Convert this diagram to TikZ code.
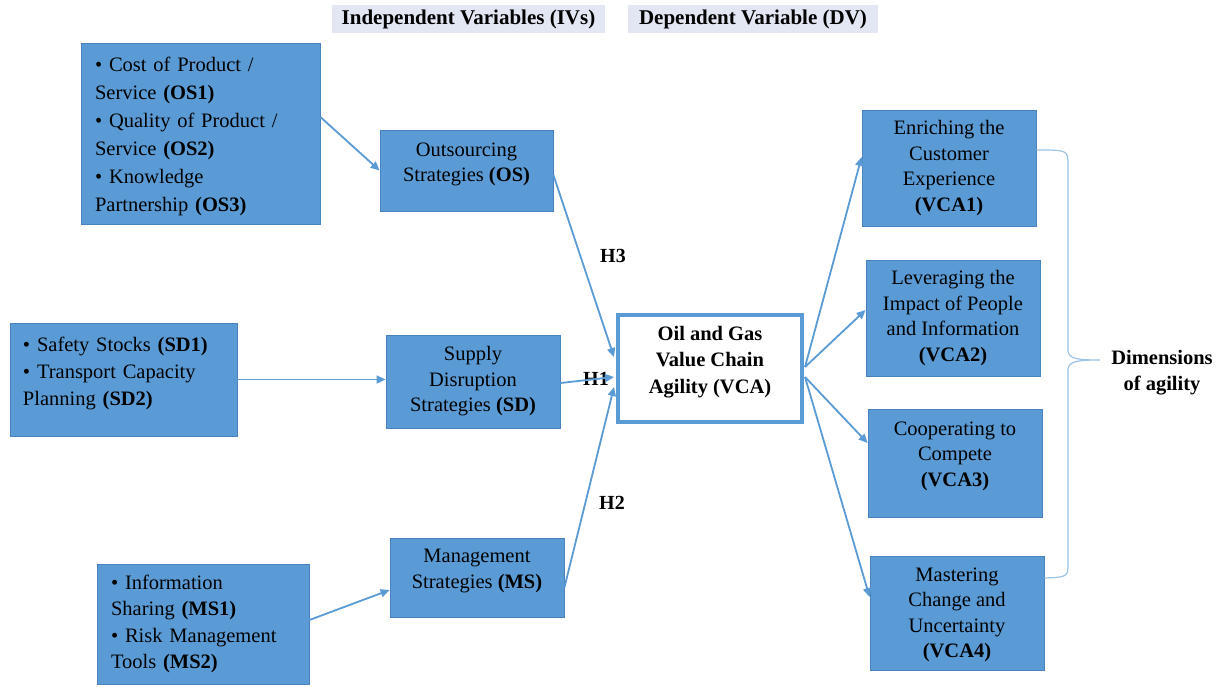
\documentclass[tikz,border=0pt]{standalone}
\usepackage{fontspec}
\setmainfont{Liberation Serif}
\usetikzlibrary{arrows.meta}
\definecolor{boxblue}{HTML}{5B9BD5}
\definecolor{boxedge}{HTML}{4A82BF}
\definecolor{linkblue}{HTML}{5B9BD5}
\definecolor{hdrbg}{HTML}{E3E7F3}
\definecolor{bracecol}{HTML}{9DC3E6}
\begin{document}
\begin{tikzpicture}[x=1pt,y=-1pt,
  box/.style={draw=boxedge, line width=0.8pt, fill=boxblue, inner sep=0pt},
  txt/.style={align=center, font=\fontsize{20.5}{25.5}\selectfont, inner sep=0pt},
  ltxt/.style={align=left, font=\fontsize{20.5}{27.5}\selectfont, inner sep=0pt},
  link/.style={draw=linkblue, line width=1.8pt, -{Triangle[length=9pt,width=8pt]}},
  hdr/.style={fill=hdrbg, font=\bfseries\fontsize{21}{24}\selectfont, inner sep=0pt},
  hyp/.style={font=\bfseries\fontsize{20}{24}\selectfont, inner sep=0pt},
  brace/.style={draw=bracecol, line width=1.2pt}]
\useasboundingbox[fill=white] (0,0) rectangle (1220,686);

% headers
\node[hdr, minimum width=273pt, minimum height=28pt] (ivh) at (468.5,19) {Independent Variables (IVs)};
\node[hdr, minimum width=250pt, minimum height=28pt] (dvh) at (753,19) {Dependent Variable (DV)};

% item boxes
\node[box, minimum width=239pt, minimum height=181pt,
  label={[ltxt, text width=211pt, yshift=-3pt, font=\fontsize{20.5}{28}\selectfont]center:{\textbullet\ Cost of Product /\\Service \textbf{(OS1)}\\\textbullet\ Quality of Product /\\Service \textbf{(OS2)}\\\textbullet\ Knowledge\\Partnership \textbf{(OS3)}}}] (osi) at (200.5,133.5) {};
\node[box, minimum width=227pt, minimum height=113pt,
  label={[ltxt, text width=201pt, yshift=6.5pt, font=\fontsize{20.5}{27}\selectfont]center:{\textbullet\ Safety Stocks \textbf{(SD1)}\\\textbullet\ Transport Capacity\\Planning \textbf{(SD2)}}}] (sdi) at (123.5,379.5) {};
\node[box, minimum width=212pt, minimum height=120pt,
  label={[ltxt, text width=184pt, font=\fontsize{20.5}{26.5}\selectfont]center:{\textbullet\ Information\\Sharing \textbf{(MS1)}\\\textbullet\ Risk Management\\Tools \textbf{(MS2)}}}] (msi) at (203,624) {};

% strategy boxes
\node[box, minimum width=173pt, minimum height=81pt,
  label={[txt, yshift=6pt]center:{Outsourcing\\Strategies \textbf{(OS)}}}] (os) at (466.5,170.5) {};
\node[box, minimum width=174pt, minimum height=93pt,
  label={[txt]center:{Supply\\Disruption\\Strategies \textbf{(SD)}}}] (sd) at (473,381.5) {};
\node[box, minimum width=174pt, minimum height=79pt,
  label={[txt, yshift=6.5pt]center:{Management\\Strategies \textbf{(MS)}}}] (ms) at (477,577.5) {};

% central box
\node[draw=boxblue, line width=4pt, fill=white, minimum width=184pt, minimum height=107pt, inner sep=0pt,
  label={[txt, yshift=6.5pt, font=\bfseries\fontsize{20.5}{26.5}\selectfont]center:{Oil and Gas\\Value Chain\\Agility (VCA)}}] (vca) at (710,368.5) {};

% dimension boxes
\node[box, minimum width=174pt, minimum height=116pt,
  label={[txt]center:{Enriching the\\Customer\\Experience\\\textbf{(VCA1)}}}] (vca1) at (949,168) {};
\node[box, minimum width=174pt, minimum height=116pt,
  label={[txt]center:{Leveraging the\\Impact of People\\and Information\\\textbf{(VCA2)}}}] (vca2) at (953,318) {};
\node[box, minimum width=174pt, minimum height=108pt,
  label={[txt, yshift=7pt]center:{Cooperating to\\Compete\\\textbf{(VCA3)}}}] (vca3) at (955,463) {};
\node[box, minimum width=174pt, minimum height=114pt,
  label={[txt, yshift=-2pt]center:{Mastering\\Change and\\Uncertainty\\\textbf{(VCA4)}}}] (vca4) at (957,613) {};

% hypothesis labels
\node[hyp] (h3) at (613,256) {H3};
\node[hyp] (h1) at (596,379) {H1};
\node[hyp] (h2) at (612,503) {H2};

% dimensions label
\node[align=center, font=\bfseries\fontsize{20.5}{26}\selectfont, inner sep=0pt] (dim) at (1162,373) {Dimensions\\of agility};
\coordinate (tip) at (1100,360);

% connectors
\draw[link] ([yshift=16.5pt]osi.east) -- (os.west);
\draw[link] (sdi.east) -- (sdi.east -| sd.west);
\draw[link] ([yshift=4pt]msi.east) -- ([yshift=-12.5pt]ms.west);
\draw[link] ([yshift=-4.5pt]os.east) -- ([xshift=-2pt,yshift=11.5pt]vca.west);
\draw[link] ([yshift=-1.5pt]sd.east) -- ([xshift=-2pt,yshift=-8.5pt]vca.west);
\draw[link] ([yshift=-10pt]ms.east) -- ([xshift=-2pt,yshift=-18.5pt]vca.west);
\draw[link] ([xshift=1pt,yshift=1.5pt]vca.east) -- ([yshift=11pt]vca1.west);
\draw[link] ([xshift=1pt,yshift=1.5pt]vca.east) -- ([yshift=8pt]vca2.west);
\draw[link] ([xshift=1pt,yshift=-8.5pt]vca.east) -- ([yshift=20pt]vca3.west);
\draw[link] ([xshift=1pt,yshift=-8.5pt]vca.east) -- ([yshift=16pt]vca4.west);

% brace
\draw[brace] ([yshift=18pt]vca1.east) .. controls (1068,150) .. (1068,166) -- (1068,350)
  .. controls (1068,359) and (1078,360) .. (tip)
  .. controls (1078,360) and (1068,361) .. (1068,370) -- (1068,562)
  .. controls (1068,577) .. ([yshift=35pt]vca4.east);
\end{tikzpicture}
\end{document}
